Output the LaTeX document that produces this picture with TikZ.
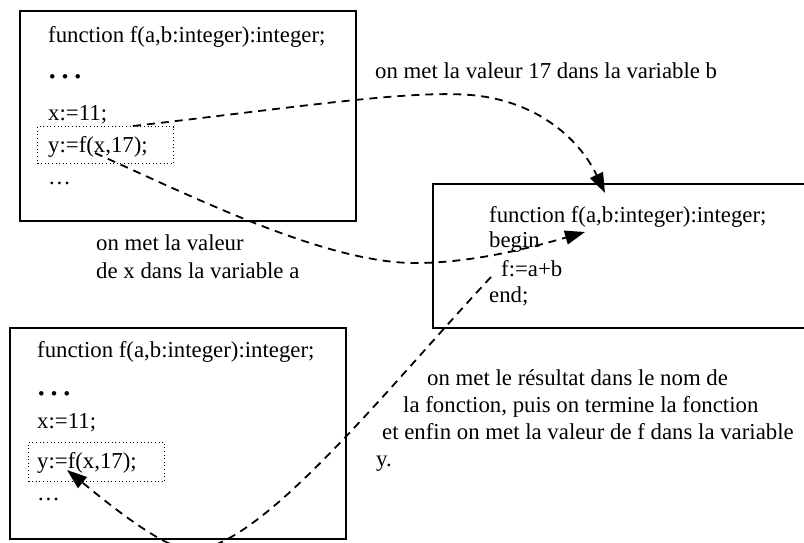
\documentclass[tikz,border=0pt]{standalone}
\usepackage{fontspec}
\setmainfont{Liberation Serif}
\usetikzlibrary{arrows.meta}
\begin{document}
\begin{tikzpicture}[x=1pt,y=-1pt,
  txt/.style={anchor=base west,inner sep=0pt},
  frame/.style={draw,line width=1.7pt,inner sep=0pt,anchor=north west},
  dotbox/.style={draw,line width=1pt,dash pattern=on 1pt off 2.6pt,inner sep=0pt,anchor=north west},
  flow/.style={line width=1.8pt,dash pattern=on 8pt off 6pt,-{Triangle[length=20pt,width=14pt]}},
  bigdots/.style={font=\fontsize{38}{40}\selectfont},
  font=\fontsize{22.8}{27}\selectfont]
\useasboundingbox (0,0) rectangle (804,542);

% frames
\node[frame,minimum width=336pt,minimum height=210pt] (box1) at (19,10) {};
\node[frame,minimum width=380pt,minimum height=144pt] (box2) at (432,183) {};
\node[frame,minimum width=336pt,minimum height=211pt] (box3) at (9,327) {};
\node[dotbox,minimum width=136pt,minimum height=37pt] (dot1) at (37,126) {};
\node[dotbox,minimum width=136pt,minimum height=39pt] (dot3) at (28,442) {};

% box 1 text
\node[txt] (a1) at (48,42) {function f(a,b:integer):integer;};
\node[txt,bigdots] (a2) at (46,78) {…};
\node[txt] (a3) at (48,120) {x:=11;};
\node[txt] (a4) at (48,152) {y:=f(x,17);};
\node[txt] (a5) at (48,184) {…};

% box 2 text
\node[txt] (b1) at (489,222) {function f(a,b:integer):integer;};
\node[txt] (b2) at (489,247) {begin};
\node[txt] (b3) at (501,276) {f:=a+b};
\node[txt] (b4) at (489,302) {end;};

% box 3 text
\node[txt] (d1) at (37,357) {function f(a,b:integer):integer;};
\node[txt,bigdots] (d2) at (35,395) {…};
\node[txt] (d3) at (37,428) {x:=11;};
\node[txt] (d4) at (37,468) {y:=f(x,17);};
\node[txt] (d5) at (37,500) {…};

% labels
\node[txt] (l1) at (375,78) {on met la valeur 17 dans la variable b};
\node[txt] (l2) at (96,250) {on met la valeur};
\node[txt] (l3) at (96,278) {de x dans la variable a};
\node[txt] (l4) at (427,385) {on met le résultat dans le nom de};
\node[txt] (l5) at (403,412) {la fonction, puis on termine la fonction};
\node[txt] (l6) at (382,439) {et enfin on met la valeur de f dans la variable};
\node[txt] (l7) at (376,466) {y.};

% connector end points
\coordinate (s1) at (133,126);
\coordinate (e1) at (605,193);
\coordinate (s2) at (95,153);
\coordinate (e2) at (585,232);
\coordinate (s3) at (491,277);
\coordinate (e3) at (67,470);

\draw[flow] (s1) .. controls (300,107) and (420,88) .. (480,96)
  .. controls (540,104) and (580,140) .. (e1);
\draw[flow] (s2) .. controls (200,200) and (330,265) .. (420,263)
  .. controls (480,262) and (540,245) .. (e2);
\draw[flow] (s3) .. controls (390,385) and (260,550) .. (192,550)
  .. controls (165,550) and (110,505) .. (e3);
\end{tikzpicture}
\end{document}
